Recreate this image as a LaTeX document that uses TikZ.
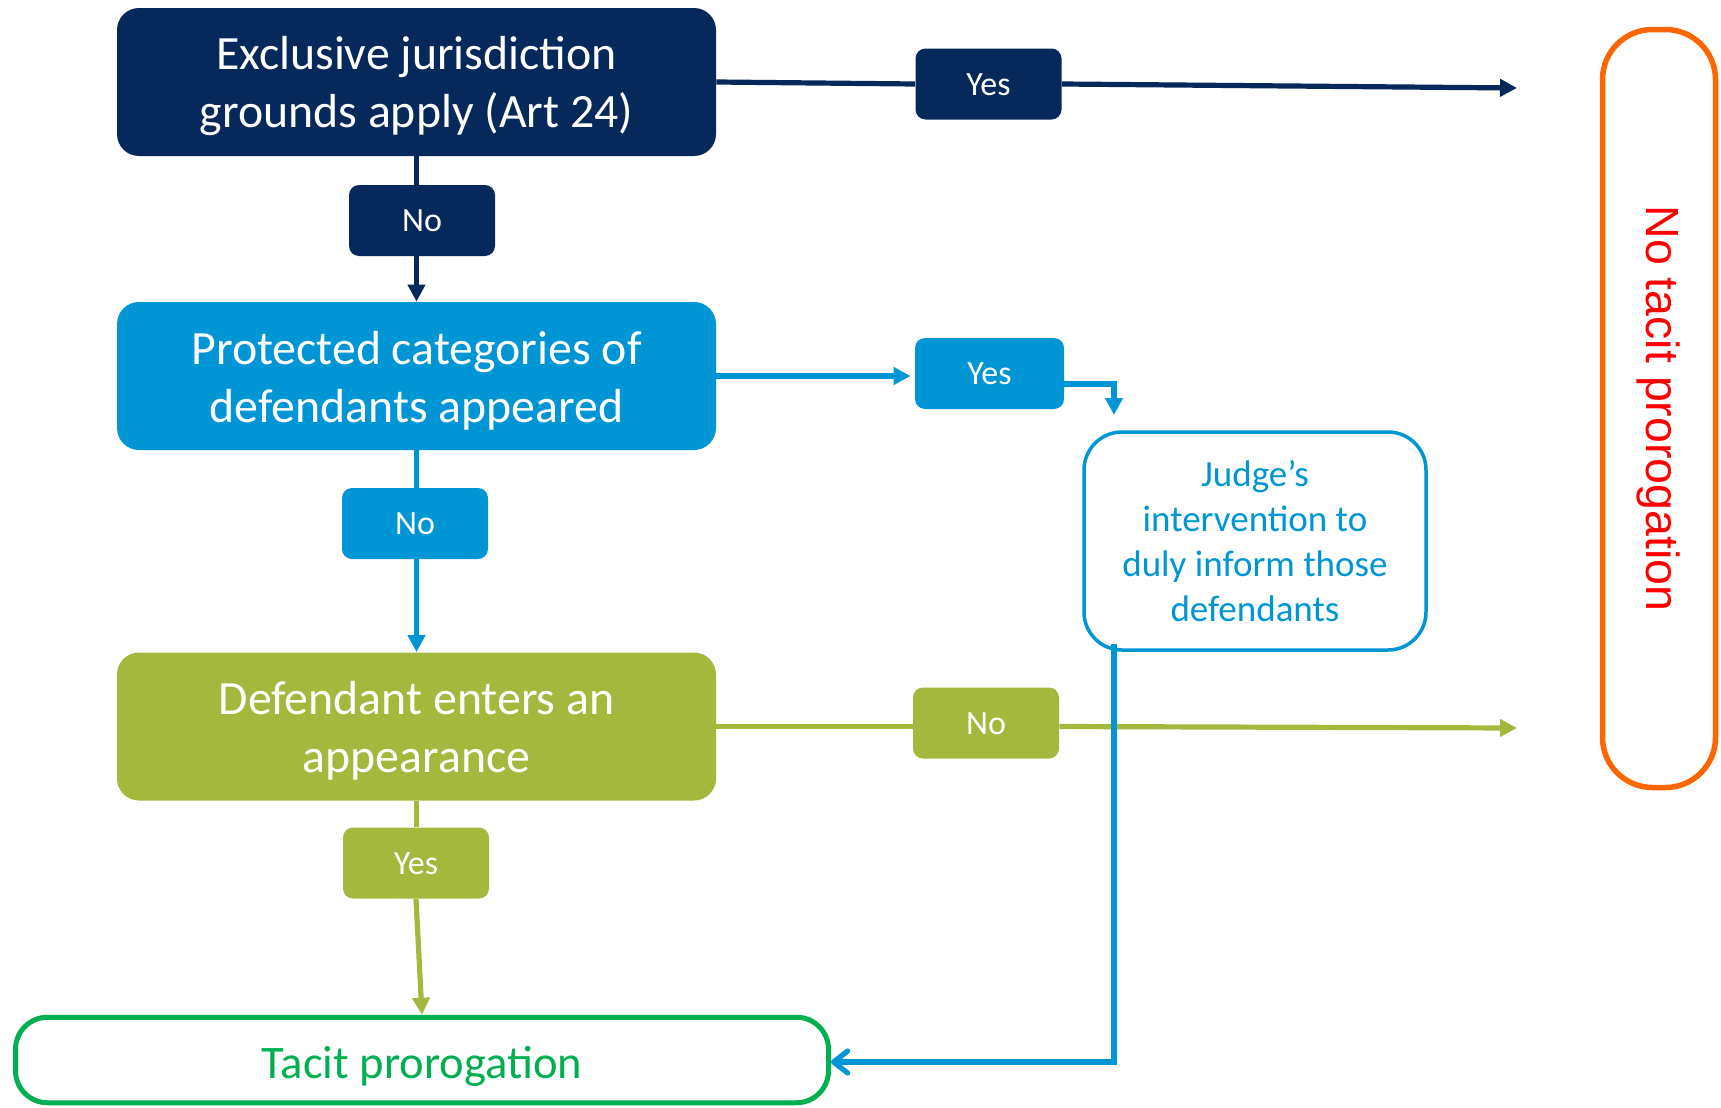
\documentclass[tikz,border=0pt]{standalone}
\usepackage{fontspec}
\setmainfont{Carlito}
\newfontfamily\arialfont{Liberation Sans}
\usetikzlibrary{arrows.meta}
\definecolor{navyfill}{HTML}{06285A}
\definecolor{bluefill}{HTML}{0096D6}
\definecolor{olivefill}{HTML}{A5B83E}
\definecolor{tacitgreen}{HTML}{00B050}
\definecolor{borderorange}{HTML}{FF6600}
\definecolor{alertred}{HTML}{FF0000}

\begin{document}
\begin{tikzpicture}[x=0.5pt,y=-0.5pt,
  decision/.style={rectangle, rounded corners=11pt, inner sep=0pt,
    minimum width=299.5pt, minimum height=74pt},
  decisiontext/.style={inner sep=0pt, align=center, text=white,
    font=\fontsize{23.9}{29}\selectfont},
  answer/.style={rectangle, rounded corners=5pt, inner sep=0pt,
    minimum width=73pt, minimum height=35.5pt, text=white,
    text height=13pt, text depth=2pt,
    font=\fontsize{17}{20}\selectfont},
  flow/.style={line width=2.6pt},
  tip/.style={-{Triangle[length=8.5pt,width=8.5pt]}},
  barb/.style={-{Straight Barb[length=7pt,width=11pt,round]}},
]
\useasboundingbox (0,0) rectangle (1721,1108);

% decision boxes and their questions
\node[decision, fill=navyfill] (excl) at (416.5,82) {};
\node[decisiontext] (excltext) at ([yshift=-2.2pt]excl.center) {Exclusive jurisdiction\\grounds apply (Art 24)};
\node[decision, fill=bluefill] (prot) at (416.5,376) {};
\node[decisiontext] (prottext) at ([yshift=-2.2pt]prot.center) {Protected categories of\\defendants appeared};
\node[decision, fill=olivefill] (appear) at (416.5,726.5) {};
\node[decisiontext] (appeartext) at ([yshift=-2.2pt]appear.center) {Defendant enters an\\appearance};

% answer tags
\node[answer, fill=navyfill] (no1) at (422,220.5) {No};
\node[answer, fill=bluefill] (no2) at (415,523.5) {No};
\node[answer, fill=olivefill] (yes3) at (416,863) {Yes};
\node[answer, fill=navyfill] (yes1) at (988.5,84) {Yes};
\node[answer, fill=bluefill, minimum width=74.5pt] (yes2) at (989.5,373.5) {Yes};
\node[answer, fill=olivefill] (no3) at (986,723) {No};

% outcomes
\node[draw=bluefill, line width=1.75pt, rounded corners=19pt, minimum width=171pt,
  minimum height=109pt, inner sep=0pt, align=center, text=bluefill,
  font=\fontsize{18.5}{22.4}\selectfont] (judge) at (1255,541)
  {Judge’s\\intervention to\\duly inform those\\defendants};
\node[draw=tacitgreen, line width=2.5pt, rounded corners=16pt, minimum width=406.5pt,
  minimum height=42.75pt, inner sep=0pt, text=tacitgreen,
  text height=22pt, text depth=3.7pt,
  font=\fontsize{23.3}{28}\selectfont] (tacit) at (422,1060) {Tacit prorogation};
\node[draw=borderorange, line width=2.75pt, rounded corners=25pt, rotate=-90,
  minimum width=379pt, minimum height=56.5pt, inner sep=0pt, text=alertred,
  font=\arialfont\fontsize{23.25}{28}\selectfont] (notacit) at (1659,408.5) {No tacit prorogation};

% free ends and bends
\coordinate (end1) at (1517,88);
\coordinate (end3) at (1517,728);
\coordinate (bend) at (1114,384);
\coordinate (drop) at (1114,415);
\coordinate (corner) at (1114,1062);

% exclusive jurisdiction branch
\draw[flow, navyfill] (excl.east) -- (yes1.west);
\draw[flow, navyfill, tip] (yes1.east) -- (end1);
\draw[flow, navyfill] (excl.south) -- (excl.south |- no1.north);
\draw[flow, navyfill, tip] (excl.south |- no1.south) -- (prot.north);

% protected categories branch
\draw[flow, bluefill, tip, shorten >=2pt] (prot.east) -- (prot.east -| yes2.west);
\draw[flow, bluefill, tip] (yes2.east |- bend) -- (bend) -- (drop);
\draw[flow, bluefill] (prot.south) -- (prot.south |- no2.north);
\draw[flow, bluefill, tip] (prot.south |- no2.south) -- (appear.north);

% appearance branch
\draw[flow, olivefill] (appear.east) -- (appear.east -| no3.west);
\draw[flow, olivefill, tip] (no3.east |- appear.east) -- (end3);
\draw[flow, olivefill] (appear.south) -- (appear.south |- yes3.north);
\draw[flow, olivefill, tip] (yes3.south) -- (tacit.north);

% judge's intervention back to tacit prorogation
\draw[flow, bluefill, barb] (judge.south -| corner) ++(0,-8) -- (corner) -- (corner -| tacit.east);
\end{tikzpicture}
\end{document}
